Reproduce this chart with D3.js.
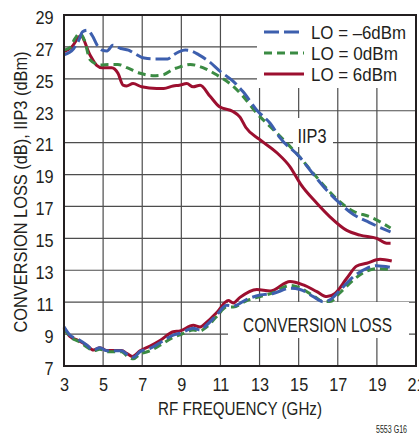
<!DOCTYPE html>
<html>
<head>
<meta charset="utf-8">
<script src="https://cdn.jsdelivr.net/npm/d3@7"></script>
<style>
html,body{margin:0;padding:0;background:#fff;}
svg{display:block;}
text{font-family:"Liberation Sans",Arial,sans-serif;fill:#231f20;}
</style>
</head>
<body>
<svg id="chart" width="419" height="436"></svg>
<script>
// ---- data ----
const xTicks = [3,5,7,9,11,13,15,17,19,21];
const yTicks = [7,9,11,13,15,17,19,21,23,25,27,29];
const seriesNames = ["LO = \u20136dBm","LO = 0dBm","LO = 6dBm"];

// IIP3, LO = -6dBm
const iip3FreqM6 = [3.0,3.5,3.75,3.95,4.2,4.45,4.7,4.95,5.2,5.5,5.9,6.3,6.6,7.1,7.6,8.0,8.3,8.6,8.9,9.2,9.5,9.9,10.4,11.0,11.6,12.15,12.85,13.55,14.05,15.05,15.7,16.45,17.1,17.8,18.6,19.7];
const iip3M6     = [26.5,26.9,27.4,27.95,28.05,27.7,27.1,26.8,26.75,27.1,26.9,26.8,26.6,26.3,26.25,26.25,26.25,26.5,26.7,26.8,26.75,26.5,26.1,25.45,24.9,24.2,23.05,22.2,21.3,20.1,19.1,18.0,17.2,16.5,16.0,15.4];
// IIP3, LO = 0dBm
const iip3Freq0 = [3.0,3.3,3.55,3.8,4.05,4.33,4.84,5.35,5.75,6.22,6.89,7.55,8.06,8.58,8.93,9.45,10.1,10.8,11.49,12.16,12.85,13.55,14.05,15.05,15.7,16.45,17.1,17.8,18.65,19.7];
const iip30     = [26.8,26.95,27.5,27.85,27.4,26.2,25.87,25.9,25.9,25.7,25.35,25.2,25.25,25.6,25.75,25.9,25.7,25.25,24.7,23.9,22.85,22.0,21.4,20.1,19.15,18.1,17.3,16.7,16.35,15.65];
// IIP3, LO = 6dBm
const iip3Freq6 = [3.0,3.4,3.85,4.33,4.67,4.95,5.44,5.76,6.02,6.2,6.53,6.97,7.74,8.1,8.58,8.9,9.28,9.6,9.96,10.47,10.95,11.64,12.0,12.3,13.0,13.9,14.55,15.1,15.93,16.6,17.46,18.14,18.99,19.5,19.7];
const iip36     = [26.7,27.0,27.7,26.5,25.85,25.7,25.7,25.35,24.6,24.55,24.7,24.5,24.4,24.4,24.55,24.6,24.7,24.5,24.6,23.9,23.25,22.95,22.6,21.95,21.2,20.35,19.5,18.4,17.2,16.35,15.5,15.2,15.0,14.7,14.7];

// Conversion loss
const clFreq = [3.0,3.3,3.73,4.16,4.5,4.84,5.18,5.95,6.2,6.55,6.89,7.4,7.91,8.59,8.93,9.61,9.96,10.3,10.81,11.32,11.66,12.35,13.03,13.7,14.56,15.07,15.75,16.26,16.6,17.12,17.8,18.48,18.99,19.68];
const clM6   = [9.46,8.94,8.67,8.32,8.0,8.15,7.96,7.96,7.75,7.55,7.9,8.1,8.46,8.94,9.05,9.36,9.25,9.57,10.2,10.8,10.76,11.18,11.45,11.55,11.87,11.8,11.35,11.03,11.14,11.76,12.6,13.12,13.29,13.19];
const cl0    = [9.35,8.85,8.55,8.2,7.95,8.05,7.9,7.9,7.65,7.45,7.75,7.95,8.3,8.8,8.95,9.25,9.2,9.45,10.1,10.7,10.7,11.1,11.35,11.6,12.05,11.9,11.4,11.05,11.05,11.6,12.4,12.95,13.1,13.05];
const clFreq6 = [3.0,3.3,3.73,4.16,4.5,4.84,5.18,5.95,6.2,6.5,6.89,7.4,7.91,8.59,8.93,9.61,9.96,10.3,10.81,11.4,11.66,12.0,12.86,13.54,14.56,15.24,15.93,16.44,16.86,17.46,17.97,18.48,19.16,19.76];
const cl6     = [9.4,8.85,8.6,8.3,8.0,8.15,7.97,7.97,7.8,7.6,7.95,8.25,8.6,9.15,9.2,9.55,9.45,9.75,10.35,11.1,10.95,11.3,11.8,11.7,12.3,12.08,11.66,11.35,11.55,12.5,13.27,13.44,13.69,13.58];

// ---- chart ----
const svg = d3.select("#chart");
const L = 64, R = 416, T = 15, B = 366;
const x = d3.scaleLinear().domain([3,21]).range([L,R]);
const y = d3.scaleLinear().domain([7,29]).range([B,T]);

const grid = svg.append("g");
grid.selectAll("line.v").data(xTicks.slice(1,-1)).enter().append("line")
  .attr("x1",d=>x(d)).attr("x2",d=>x(d)).attr("y1",T).attr("y2",B)
  .attr("stroke","#4d4d4d").attr("stroke-width",1.2);
grid.selectAll("line.h").data(yTicks.slice(1,-1)).enter().append("line")
  .attr("x1",L).attr("x2",R).attr("y1",d=>y(d)).attr("y2",d=>y(d))
  .attr("stroke","#4d4d4d").attr("stroke-width",1.2);

// label background boxes (cover gridlines)
svg.append("rect").attr("x",257).attr("y",T).attr("width",R-257).attr("height",88-T).attr("fill","#fff");
svg.append("rect").attr("x",293).attr("y",118).attr("width",40).attr("height",29).attr("fill","#fff");
svg.append("rect").attr("x",228).attr("y",302).attr("width",181).attr("height",36).attr("fill","#fff");

const colors = ["#3d5fae","#3b8b43","#9c0f2f"];
const dashes = ["15,5","8,5",null];

function mk(fx, fy){ return fx.map((f,i)=>[f,fy[i]]); }
const series = [
  {c:2, d:mk(iip3Freq6,iip36)}, {c:2, d:mk(clFreq6,cl6)},
  {c:1, d:mk(iip3Freq0,iip30)}, {c:1, d:mk(clFreq,cl0)},
  {c:0, d:mk(iip3FreqM6,iip3M6)}, {c:0, d:mk(clFreq,clM6)}
];
const line = d3.line().x(d=>x(d[0])).y(d=>y(d[1])).curve(d3.curveMonotoneX);
series.forEach(s=>{
  svg.append("path").attr("d",line(s.d)).attr("fill","none")
    .attr("stroke",colors[s.c]).attr("stroke-width",3)
    .attr("stroke-dasharray",dashes[s.c]).attr("stroke-linejoin","round");
});

// frame
svg.append("rect").attr("x",L).attr("y",T).attr("width",R-L).attr("height",B-T)
  .attr("fill","none").attr("stroke","#231f20").attr("stroke-width",2);

// axes labels (narrowed glyphs)
const SX = 0.88;
const xAxis = d3.axisBottom(x).tickValues(xTicks).tickSize(0).tickPadding(12);
const gx = svg.append("g").attr("transform",`translate(0,${B})`).call(xAxis);
gx.select(".domain").remove();
gx.selectAll("text").style("font-size","18.5px").style("font-family","Liberation Sans")
  .attr("fill","#231f20").attr("transform",`scale(${SX},1)`);

const yAxis = d3.axisLeft(y).tickValues(yTicks).tickSize(0).tickPadding(10.5/SX);
const gy = svg.append("g").attr("transform",`translate(${L},0)`).call(yAxis);
gy.select(".domain").remove();
gy.selectAll("text").style("font-size","18.5px").style("font-family","Liberation Sans")
  .attr("fill","#231f20").attr("dy","0.45em").attr("transform",`scale(${SX},1)`);

function label(xp, yp, txt, size, len, anchor, rot){
  const t = svg.append("text")
    .attr("transform",`translate(${xp},${yp})` + (rot ? ` rotate(${rot})` : ""))
    .attr("text-anchor",anchor).style("font-size",size+"px").text(txt);
  if (len) t.attr("textLength",len).attr("lengthAdjust","spacingAndGlyphs");
  return t;
}
label(240,415,"RF FREQUENCY (GHz)",18.5,164,"middle");
label(27,192,"CONVERSION LOSS (dB), IIP3 (dBm)",18.5,281,"middle",-90);
label(407,433,"5553 G16",10,31,"end");

// in-plot labels
label(312,143,"IIP3",20,29,"middle");
label(317.5,332,"CONVERSION LOSS",19.5,149,"middle");

// legend
const legY = [32,53,74];
const legLen = [95,87,86];
seriesNames.forEach((n,i)=>{
  svg.append("line").attr("x1",264).attr("x2",304).attr("y1",legY[i]).attr("y2",legY[i])
    .attr("stroke",colors[i]).attr("stroke-width",3).attr("stroke-dasharray",dashes[i]);
  label(311,legY[i]+7,n,18.5,legLen[i],"start");
});
</script>
</body>
</html>
